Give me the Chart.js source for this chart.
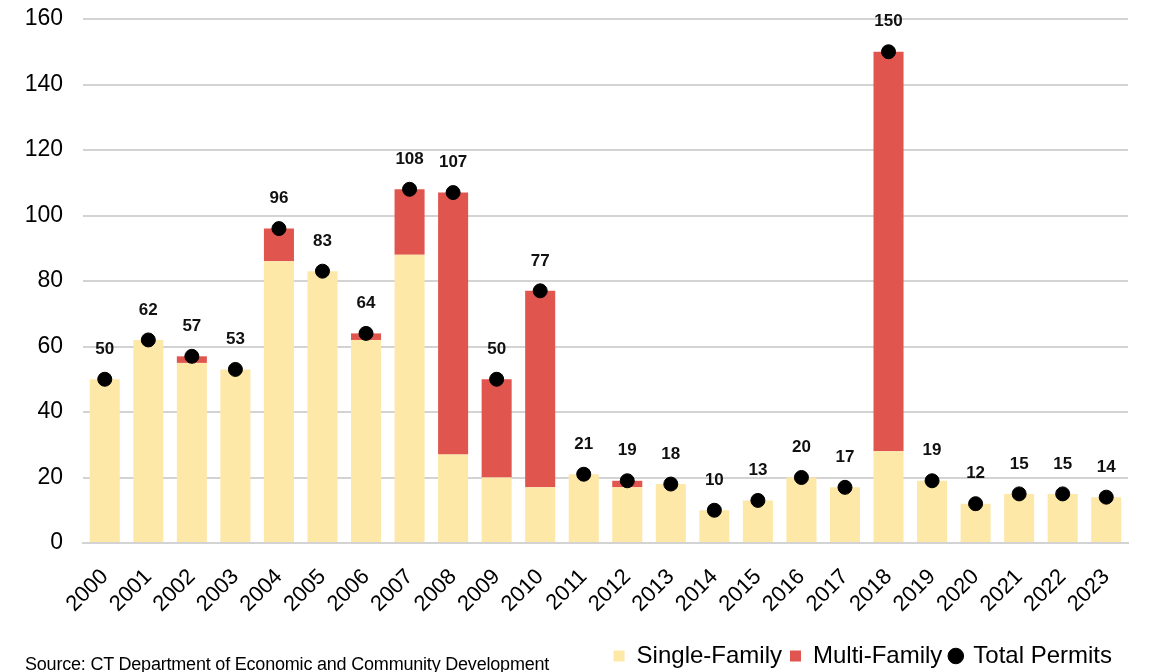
<!DOCTYPE html>
<html>
<head>
<meta charset="utf-8">
<script src="https://cdn.jsdelivr.net/npm/chart.js@4.4.1/dist/chart.umd.min.js"></script>
<style>
  html,body{margin:0;padding:0;background:#fff;}
  #wrap{position:relative;width:1152px;height:672px;overflow:hidden;}
  #c{position:absolute;left:0;top:0;}
  #src{position:absolute;left:25px;top:654px;font-family:"Liberation Sans",Arial,sans-serif;font-size:18px;color:#000;white-space:nowrap;letter-spacing:-0.2px;}
</style>
</head>
<body>
<div id="wrap">
<canvas id="c" width="1152" height="672"></canvas>
<div id="src">Source: CT Department of Economic and Community Development</div>
</div>
<script>
const years = ["2000","2001","2002","2003","2004","2005","2006","2007","2008","2009","2010","2011","2012","2013","2014","2015","2016","2017","2018","2019","2020","2021","2022","2023"];
const singleFamily = [50,62,55,53,86,83,62,88,27,20,17,21,17,18,10,13,20,17,28,19,12,15,15,14];
const multiFamily  = [0,0,2,0,10,0,2,20,80,30,60,0,2,0,0,0,0,0,122,0,0,0,0,0];
const totalPermits = [50,62,57,53,96,83,64,108,107,50,77,21,19,18,10,13,20,17,150,19,12,15,15,14];
const yTicks = [0,20,40,60,80,100,120,140,160];

const FONT = '"Liberation Sans", Arial, sans-serif';

const labelPlugin = {
  id: 'totLabels',
  afterLayout(chart) {
    const l = chart.legend;
    if (l) { l.left -= 8; l.right -= 8; l.top += 6; l.bottom += 6; }
  },
  afterDatasetsDraw(chart) {
    const ctx = chart.ctx;
    const meta = chart.getDatasetMeta(2);
    ctx.save();
    ctx.font = 'bold 17px ' + FONT;
    ctx.fillStyle = '#111';
    ctx.textAlign = 'center';
    ctx.textBaseline = 'middle';
    meta.data.forEach((pt, i) => {
      ctx.fillText(String(totalPermits[i]), pt.x, pt.y - 30);
    });
    ctx.restore();
  }
};

new Chart(document.getElementById('c'), {
  data: {
    labels: years,
    datasets: [
      { type: 'bar', label: 'Single-Family', data: singleFamily, backgroundColor: '#FEE8A8', stack: 'permits', pointStyle: 'rect', barPercentage: 0.69, categoryPercentage: 1.0, order: 2 },
      { type: 'bar', label: 'Multi-Family', data: multiFamily, backgroundColor: '#E1554F', stack: 'permits', pointStyle: 'rect', barPercentage: 0.69, categoryPercentage: 1.0, order: 2 },
      { type: 'line', label: 'Total Permits', data: totalPermits, showLine: false, pointRadius: 7, pointHoverRadius: 7, pointBackgroundColor: '#000', pointBorderColor: '#000', backgroundColor: '#000', borderColor: '#000', pointStyle: 'circle', stack: 'total', order: 1 }
    ]
  },
  options: {
    responsive: false,
    animation: false,
    layout: { padding: { top: 19, right: 24, left: 0, bottom: 0 } },
    plugins: {
      tooltip: { enabled: false },
      legend: {
        position: 'bottom',
        align: 'end',
        labels: {
          usePointStyle: true,
          boxWidth: 11,
          boxHeight: 11,
          padding: 8,
          color: '#000',
          font: { family: FONT, size: 24 },
          sort: (a, b) => a.datasetIndex - b.datasetIndex
        }
      }
    },
    scales: {
      x: {
        stacked: true,
        offset: true,
        grid: { display: false, drawTicks: false },
        border: { display: true, color: '#d3d3d3', width: 2 },
        ticks: { color: '#000', font: { family: FONT, size: 22 }, maxRotation: 45, minRotation: 45, padding: 21, labelOffset: 0, autoSkip: false },
        afterFit(scale) { scale.height = 87; }
      },
      y: {
        stacked: true,
        min: 0,
        max: 160,
        afterBuildTicks(scale) { scale.ticks = yTicks.map(v => ({ value: v })); },
        grid: { color: '#d3d3d3', lineWidth: 2, drawTicks: false },
        border: { display: false },
        ticks: { color: '#000', font: { family: FONT, size: 23 }, padding: 20 },
        afterFit(scale) { scale.width = 83; scale.paddingTop = 0; scale.paddingBottom = 0; }
      }
    }
  },
  plugins: [labelPlugin]
});
</script>
</body>
</html>
